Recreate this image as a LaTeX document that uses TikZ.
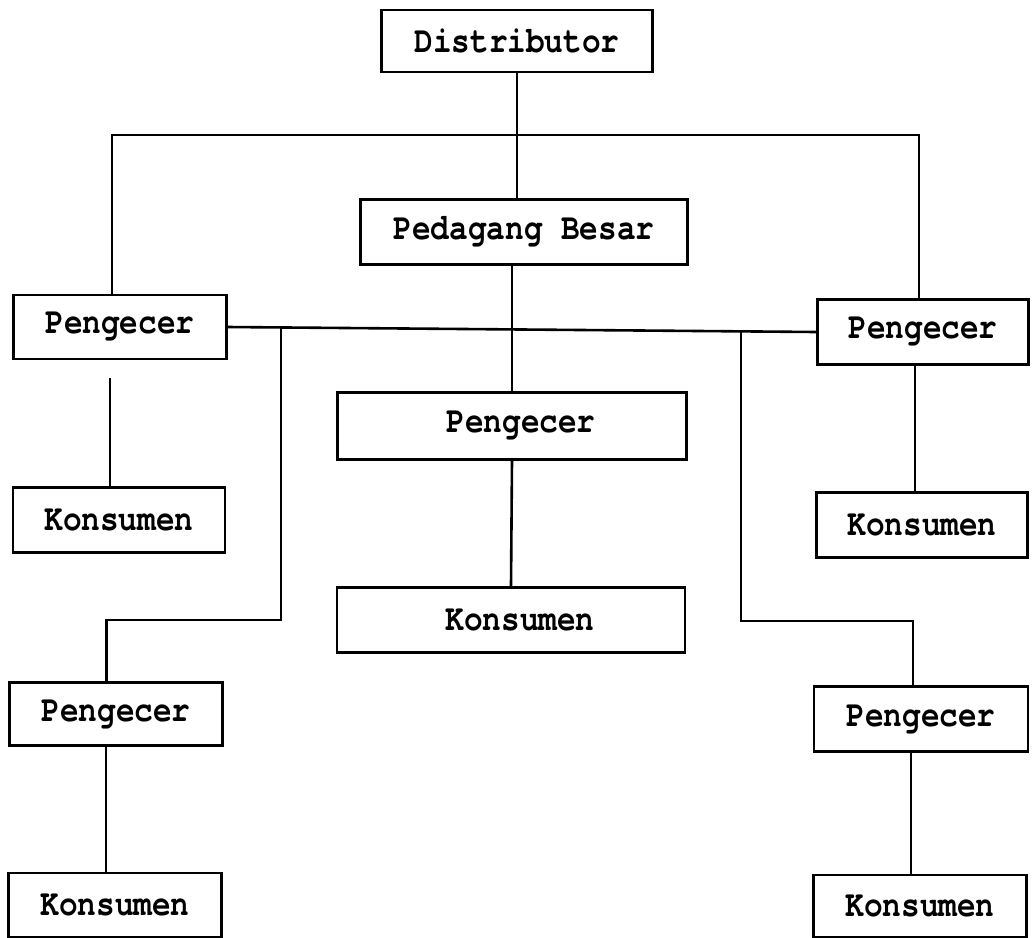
\documentclass[tikz,border=0pt]{standalone}
\usepackage{fontspec}
\newfontfamily\hurufkotak{TeX Gyre Cursor}[FakeStretch=0.84]
\tikzset{
  kotak/.style={draw,line width=1.3pt,inner sep=0pt,minimum width=106pt,minimum height=32pt,
    font=\hurufkotak\bfseries\fontsize{18.5}{20}\selectfont},
  garis/.style={line width=1.3pt},
}
\begin{document}
\begin{tikzpicture}[x=0.5pt,y=-0.5pt]
  \useasboundingbox (0,0) rectangle (1035,938);
  % kotak-kotak
  \node[kotak,minimum width=135.5pt,minimum height=31pt] (dist) at (517,41) {Distributor};
  \node[kotak,minimum width=163.5pt,minimum height=32.5pt] (pb) at (524,232) {Pedagang Besar};
  \node[kotak,minimum width=106.5pt] (pl) at (120,327) {Pengecer};
  \node[kotak,minimum width=105.5pt,minimum height=32.5pt] (pr) at (923,332) {Pengecer};
  \node[kotak,minimum width=174.5pt,minimum height=33.5pt] (pc) at (512,426) {\hspace*{9pt}Pengecer};
  \node[kotak,minimum height=32.5pt] (kl) at (119,520) {Konsumen};
  \node[kotak,minimum width=105.5pt,minimum height=32.5pt] (kr) at (922,525) {Konsumen};
  \node[kotak,minimum width=174pt,minimum height=32.5pt] (kc) at (511,620) {\hspace*{9pt}Konsumen};
  \node[kotak,minimum width=106.5pt,minimum height=31.5pt] (pbl) at (116,714) {Pengecer};
  \node[kotak,minimum width=107pt,minimum height=32.5pt] (pbr) at (921,719) {Pengecer};
  \node[kotak,minimum width=106.5pt] (kbl) at (115,905) {Konsumen};
  \node[kotak,minimum width=106.5pt,minimum height=31pt] (kbr) at (920,906) {Konsumen};
  % titik bantu
  \coordinate (atas) at (515,135);
  \coordinate (cabkiri) at (281,328);
  \coordinate (cabkanan) at (741,331);
  \coordinate (belokkiri) at (281,620);
  \coordinate (belokkanan) at (741,621);
  \coordinate (putus) at (110,378);
  % garis
  \draw[garis] (dist.south) -- (dist.south |- pb.north);
  \draw[garis] ([xshift=-4pt]pl.north) |- (atas) -| ([xshift=-2pt]pr.north);
  \draw[garis] (pc.north |- pb.south) -- (pc.north);
  \draw[garis] (pl.east) -- (pr.west);
  \draw[garis] (putus) -- (putus |- kl.north);
  \draw[garis] ([xshift=-4pt]pr.south) -- ([xshift=-4pt]pr.south |- kr.north);
  \draw[garis] (pc.south) -- (kc.north);
  \draw[garis] (cabkiri) -- (belokkiri) -| ([xshift=-4.75pt]pbl.north);
  \draw[garis] (cabkanan) -- (belokkanan) -| ([xshift=-4pt]pbr.north);
  \draw[garis] ([xshift=-5pt]pbl.south) -- ([xshift=-5pt]pbl.south |- kbl.north);
  \draw[garis] ([xshift=-5pt]pbr.south) -- ([xshift=-5pt]pbr.south |- kbr.north);
\end{tikzpicture}
\end{document}
